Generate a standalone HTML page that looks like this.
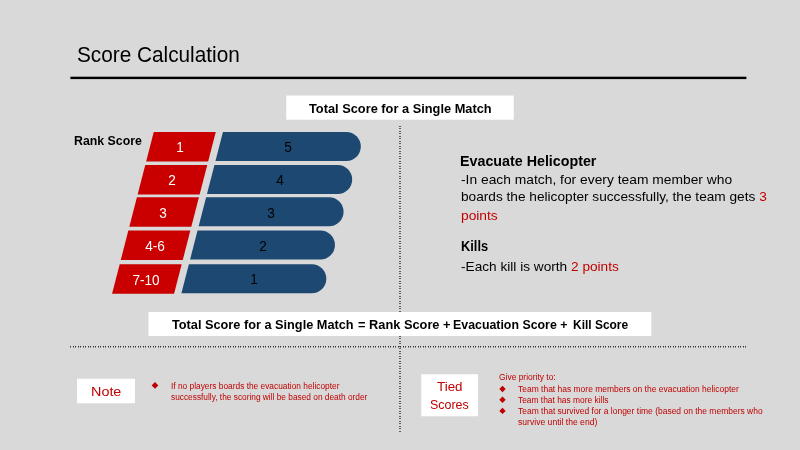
<!DOCTYPE html>
<html><head><meta charset="utf-8"><title>Score Calculation</title>
<style>
html,body{margin:0;padding:0}
body{width:800px;height:450px;background:#D9D9D9;position:relative;overflow:hidden;font-family:"Liberation Sans",sans-serif}
svg{position:absolute;left:0;top:0}
.t{position:absolute;white-space:nowrap;line-height:1;transform-origin:0 0}
.c{position:absolute;white-space:nowrap;line-height:1;text-align:center;width:80px;transform:scaleX(0.95);transform-origin:50% 0}
.r{color:#C00000}
</style></head><body>
<svg width="800" height="450" viewBox="0 0 800 450">
<defs>
<pattern id="vd" x="399" y="126" width="2" height="5" patternUnits="userSpaceOnUse"><rect x="0" y="0" width="2" height="1" fill="#2a2a2a"/><rect x="0" y="2" width="2" height="1" fill="#2a2a2a"/></pattern>
<pattern id="hd" x="70" y="346" width="5" height="2" patternUnits="userSpaceOnUse"><rect x="0" y="0" width="1" height="2" fill="#2a2a2a"/><rect x="3" y="0" width="1" height="2" fill="#2a2a2a"/></pattern>
</defs>
<rect x="70.4" y="76.7" width="676" height="2.4" fill="#000"/>
<rect x="399.3" y="126" width="1.4" height="306" fill="url(#vd)"/>
<rect x="70" y="346.05" width="676.5" height="1.4" fill="url(#hd)"/>
<rect x="286.25" y="95.5" width="227.5" height="24.2" fill="#fff"/>
<rect x="148.5" y="312" width="502.8" height="24" fill="#fff"/>
<rect x="77" y="378.75" width="58" height="24.5" fill="#fff"/>
<rect x="421.25" y="374.25" width="56.75" height="42" fill="#fff"/>
<polygon fill="#CA0000" points="153.75,132.00 215.75,132.00 208.15,161.50 146.15,161.50"/>
<path fill="#1C4872" d="M222.95,132.00 L346.30,132.00 A14.50,14.50 0 0 1 346.30,161.00 L215.48,161.00 Z"/>
<polygon fill="#CA0000" points="145.25,165.00 207.25,165.00 199.64,194.50 137.64,194.50"/>
<path fill="#1C4872" d="M214.45,165.00 L337.68,165.00 A14.50,14.50 0 0 1 337.68,194.00 L206.97,194.00 Z"/>
<polygon fill="#CA0000" points="136.92,197.30 198.92,197.30 191.32,226.80 129.32,226.80"/>
<path fill="#1C4872" d="M206.12,197.30 L329.06,197.30 A14.50,14.50 0 0 1 329.06,226.30 L198.65,226.30 Z"/>
<polygon fill="#CA0000" points="128.34,230.60 190.34,230.60 182.74,260.10 120.74,260.10"/>
<path fill="#1C4872" d="M197.54,230.60 L320.44,230.60 A14.50,14.50 0 0 1 320.44,259.60 L190.07,259.60 Z"/>
<polygon fill="#CA0000" points="119.68,264.20 181.68,264.20 174.08,293.70 112.08,293.70"/>
<path fill="#1C4872" d="M188.88,264.20 L311.82,264.20 A14.50,14.50 0 0 1 311.82,293.20 L181.41,293.20 Z"/>
<polygon fill="#C00000" points="155,382.0 158.4,385.4 155,388.79999999999995 151.6,385.4"/>
<polygon fill="#C00000" points="502.5,385.8 505.7,389.0 502.5,392.2 499.3,389.0"/>
<polygon fill="#C00000" points="502.5,396.5 505.7,399.7 502.5,402.9 499.3,399.7"/>
<polygon fill="#C00000" points="502.5,407.7 505.7,410.9 502.5,414.09999999999997 499.3,410.9"/>
</svg>
<div class="t" style="left:77.05px;top:44px;font-size:21.80px;font-weight:400;color:#000;transform:scaleX(0.9527)">Score Calculation</div>
<div class="t" style="left:308.60px;top:102px;font-size:13.50px;font-weight:700;color:#000;transform:scaleX(0.9487)">Total Score for a Single Match</div>
<div class="t" style="left:74.25px;top:134px;font-size:13.50px;font-weight:700;color:#000;transform:scaleX(0.9142)">Rank Score</div>
<div class="t" style="left:459.75px;top:153px;font-size:15.00px;font-weight:700;color:#000;transform:scaleX(0.9514)">Evacuate Helicopter</div>
<div class="t" style="left:460.50px;top:173px;font-size:13.50px;font-weight:400;color:#000;transform:scaleX(1.0236)">-In each match, for every team member who</div>
<div class="t" style="left:460.70px;top:190px;font-size:13.50px;font-weight:400;color:#000;transform:scaleX(1.0118)">boards the helicopter successfully, the team gets <span class='r'>3</span></div>
<div class="t" style="left:460.80px;top:209px;font-size:13.50px;font-weight:400;color:#C00000;transform:scaleX(1.0194)">points</div>
<div class="t" style="left:461.44px;top:238px;font-size:15.00px;font-weight:700;color:#000;transform:scaleX(0.8567)">Kills</div>
<div class="t" style="left:460.50px;top:260px;font-size:13.50px;font-weight:400;color:#000;transform:scaleX(1.0112)">-Each kill is worth <span class='r'>2 points</span></div>
<div class="t" style="left:171.90px;top:318px;font-size:13.50px;font-weight:700;color:#000;transform:scaleX(0.9432)">Total Score for a Single Match</div>
<div class="t" style="left:357.50px;top:318px;font-size:13.50px;font-weight:700;color:#000;transform:scaleX(0.9485)">= Rank Score +</div>
<div class="t" style="left:453.00px;top:318px;font-size:13.50px;font-weight:700;color:#000;transform:scaleX(0.9160)">Evacuation Score +</div>
<div class="t" style="left:572.50px;top:318px;font-size:13.50px;font-weight:700;color:#000;transform:scaleX(0.8855)">Kill Score</div>
<div class="t" style="left:90.69px;top:385px;font-size:13.50px;font-weight:400;color:#C00000;transform:scaleX(1.0648)">Note</div>
<div class="t" style="left:437.00px;top:380px;font-size:13.50px;font-weight:400;color:#C00000;transform:scaleX(0.9900)">Tied</div>
<div class="t" style="left:430.00px;top:398px;font-size:13.50px;font-weight:400;color:#C00000;transform:scaleX(0.9226)">Scores</div>
<div class="t" style="left:170.50px;top:382px;font-size:8.30px;font-weight:400;color:#C00000;transform:scaleX(1.0060)">If no players boards the evacuation helicopter</div>
<div class="t" style="left:170.50px;top:393px;font-size:8.30px;font-weight:400;color:#C00000;transform:scaleX(1.0026)">successfully, the scoring will be based on death order</div>
<div class="t" style="left:498.75px;top:373px;font-size:8.30px;font-weight:400;color:#C00000;transform:scaleX(1.0165)">Give priority to:</div>
<div class="t" style="left:517.50px;top:385px;font-size:8.30px;font-weight:400;color:#C00000;transform:scaleX(1.0208)">Team that has more members on the evacuation helicopter</div>
<div class="t" style="left:517.50px;top:396px;font-size:8.30px;font-weight:400;color:#C00000;transform:scaleX(1.0112)">Team that has more kills</div>
<div class="t" style="left:517.50px;top:407px;font-size:8.30px;font-weight:400;color:#C00000;transform:scaleX(1.0220)">Team that survived for a longer time (based on the members who</div>
<div class="t" style="left:517.50px;top:418px;font-size:8.30px;font-weight:400;color:#C00000;transform:scaleX(1.0362)">survive until the end)</div>
<div class="c" style="left:140.30px;top:140px;font-size:14.30px;color:#fff">1</div>
<div class="c" style="left:248.00px;top:140px;font-size:14.30px;color:#000">5</div>
<div class="c" style="left:131.80px;top:173px;font-size:14.30px;color:#fff">2</div>
<div class="c" style="left:239.50px;top:173px;font-size:14.30px;color:#000">4</div>
<div class="c" style="left:123.30px;top:206px;font-size:14.30px;color:#fff">3</div>
<div class="c" style="left:231.00px;top:206px;font-size:14.30px;color:#000">3</div>
<div class="c" style="left:114.80px;top:239px;font-size:14.30px;color:#fff">4-6</div>
<div class="c" style="left:222.50px;top:239px;font-size:14.30px;color:#000">2</div>
<div class="c" style="left:106.30px;top:273px;font-size:14.30px;color:#fff">7-10</div>
<div class="c" style="left:214.00px;top:272px;font-size:14.30px;color:#000">1</div>
</body></html>
